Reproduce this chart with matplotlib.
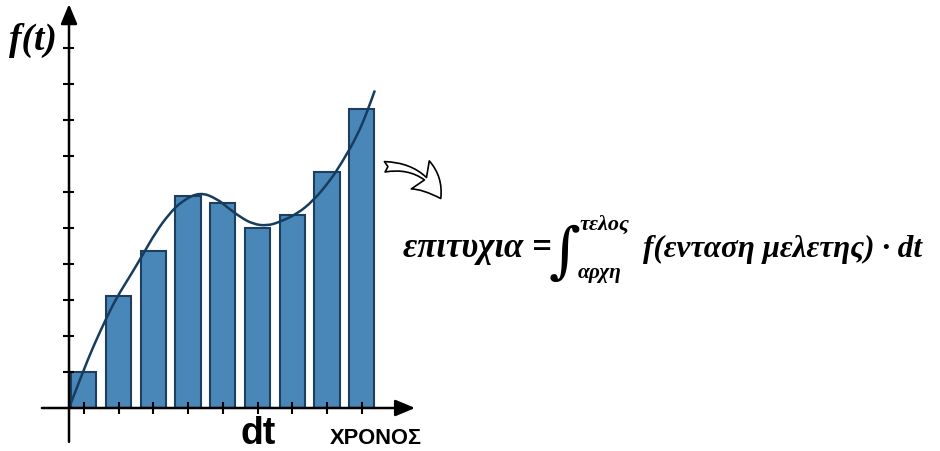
import numpy as np
import matplotlib
matplotlib.use("Agg")
from matplotlib import pyplot as plt
from matplotlib.patches import FancyArrowPatch, PathPatch
from matplotlib.path import Path

# data
bar_heights = [1.0, 3.1, 4.35, 5.9, 5.7, 5.0, 5.35, 6.55, 8.3]
y_ticks = [1, 2, 3, 4, 5, 6, 7, 8, 9, 10]
curve_x = [0.0, 0.40, 0.69, 1.09, 1.38, 1.76, 2.10, 2.50, 2.88, 3.25, 3.77, 4.26,
           4.55, 4.92, 5.29, 5.70, 6.07, 6.56, 7.02, 7.51, 7.88, 8.29, 8.58, 8.80]
curve_y = [0.0, 1.00, 1.69, 2.53, 3.08, 3.67, 4.22, 4.89, 5.39, 5.75, 6.00, 5.81,
           5.58, 5.31, 5.11, 5.06, 5.17, 5.39, 5.75, 6.31, 6.86, 7.56, 8.22, 8.82]
y_label = "f(t)"
x_label = "ΧΡΟΝΟΣ"
dt_label = "dt"
lhs = "επιτυχια ="
upper = "τελος"
lower = "αρχη"
rhs = "f(ενταση μελετης) · dt"

W, H = 940, 452
fig = plt.figure(figsize=(9.4, 4.52), dpi=100)
fig.patch.set_facecolor("white")


def px(x, y):
    # pixel position -> figure fraction
    return x / W, 1 - y / H


# axes placed so that one bar step = 34.75 px and one y unit = 36 px
ax = fig.add_axes([69 / W, 43 / H, 347.5 / W, 396 / H])
ax.set_xlim(0, 10)
ax.set_ylim(0, 11)
ax.axis("off")

pos = np.arange(len(bar_heights)) + 0.425
ax.bar(pos, bar_heights, width=0.73, color="#4a87b9", edgecolor="#1c3f5f",
       linewidth=1.5, zorder=2)

# smooth line: read points used as quadratic bezier control points
pts = np.column_stack([curve_x, curve_y])
verts = [pts[0]]
codes = [Path.MOVETO]
for i in range(1, len(pts) - 1):
    mid = (pts[i] + pts[i + 1]) / 2 if i < len(pts) - 2 else pts[i + 1]
    verts += [pts[i], mid]
    codes += [Path.CURVE3, Path.CURVE3]
ax.add_patch(PathPatch(Path(verts, codes), facecolor="none", edgecolor="#163c5e",
                       lw=1.8, zorder=3, clip_on=False))

# axes with arrows
arr = dict(arrowstyle="-|>,head_length=1.2,head_width=0.5", color="black",
           lw=1.8, shrinkA=0, shrinkB=0)
ax.annotate("", xy=(0, 11.22), xytext=(0, -0.94), arrowprops=arr,
            annotation_clip=False, zorder=4)
ax.annotate("", xy=(9.96, 0), xytext=(-0.78, 0), arrowprops=arr,
            annotation_clip=False, zorder=4)
ax.hlines(y_ticks, -0.17, 0.14, color="black", lw=1.5, clip_on=False, zorder=4)
ax.vlines(pos, -0.17, 0.17, color="black", lw=1.5, clip_on=False, zorder=4)

serif_bi = dict(family=["Liberation Serif", "DejaVu Serif"], weight="bold", style="italic")
sans_b = dict(family=["Liberation Sans", "DejaVu Sans"], weight="bold")

renderer = fig.canvas.get_renderer()


def fit(t, target_w):
    w = t.get_window_extent(renderer).width
    t.set_fontsize(t.get_fontsize() * target_w / w)


t = fig.text(*px(9, 50), y_label, fontsize=20, va="baseline", **serif_bi)
fit(t, 48)
fig.text(*px(258, 444), dt_label, fontsize=27, ha="center", va="baseline", **sans_b)
t = fig.text(*px(376, 444), x_label, fontsize=15, ha="center", va="baseline", **sans_b)
fit(t, 92)

t = fig.text(*px(403, 257), lhs, fontsize=20, va="baseline", **serif_bi)
fit(t, 149)
fig.text(*px(549, 271), "∫", fontsize=44, va="baseline",
         family=["DejaVu Serif", "DejaVu Sans"], style="italic")
t = fig.text(*px(580, 230), upper, fontsize=12, va="baseline", **serif_bi)
fit(t, 50)
t = fig.text(*px(578, 278), lower, fontsize=12, va="baseline", **serif_bi)
fit(t, 44)
t = fig.text(*px(643, 257), rhs, fontsize=20, va="baseline", **serif_bi)
fit(t, 280)

# curved outline arrow pointing to the formula
arrow = FancyArrowPatch(px(382, 168), px(442, 202), transform=fig.transFigure,
                        connectionstyle="arc3,rad=-0.35",
                        arrowstyle="fancy,head_length=0.75,head_width=0.8,tail_width=0.25",
                        mutation_scale=30, facecolor="white", edgecolor="black", lw=1.2)
fig.patches.append(arrow)

fig.savefig("out.png", dpi=100, facecolor="white")
